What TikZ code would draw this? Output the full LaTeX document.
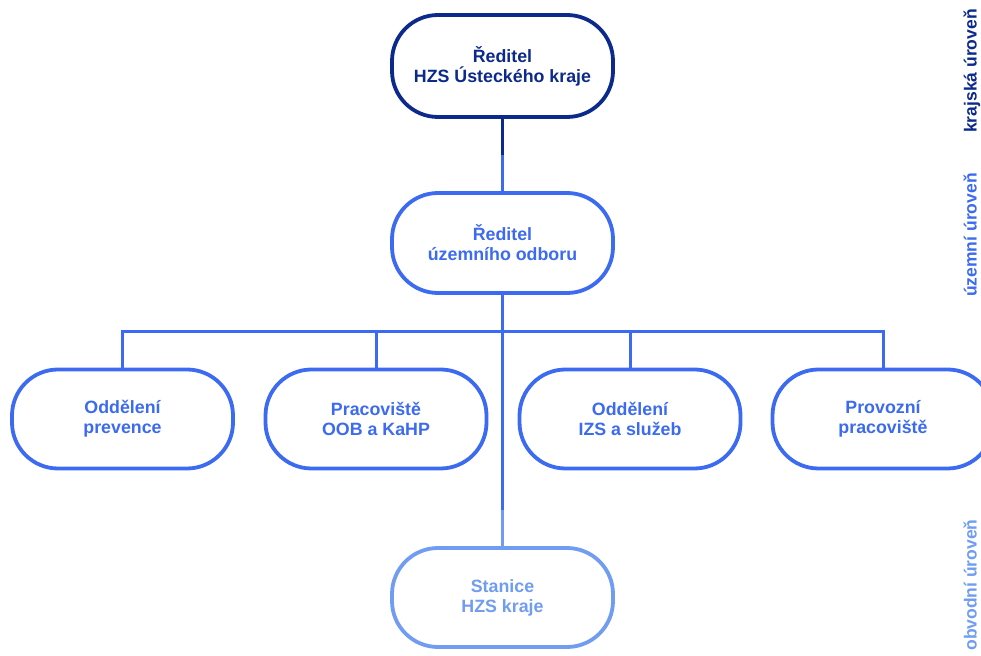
\documentclass[tikz,border=0pt]{standalone}
\usepackage{fontspec}
\setmainfont{Liberation Sans}
\definecolor{cnavy}{RGB}{12,42,140}
\definecolor{cmid}{RGB}{60,106,240}
\definecolor{clight}{RGB}{112,156,242}
\tikzset{
  x=1pt,y=1pt,
  orgbox/.style={draw, line width=3.8pt, rounded corners=46pt, fill=white,
    minimum width=221pt, minimum height=99pt, align=center, inner sep=0pt,
    font=\fontsize{17.8}{20}\selectfont\bfseries},
  conn/.style={line width=3pt},
  lvl/.style={rotate=90, anchor=base, inner sep=0pt,
    font=\fontsize{17.5}{20}\selectfont\bfseries},
}
\begin{document}
\begin{tikzpicture}
\useasboundingbox (0,0) rectangle (981,655);
\clip (0,0) rectangle (981,655);
% nodes
\node[orgbox, draw=cnavy, text=cnavy, minimum height=102pt] (top) at (502.5,589) {Ředitel\\HZS Ústeckého kraje};
\node[orgbox, draw=cmid, text=cmid, minimum height=100pt] (mid) at (502.5,412) {Ředitel\\územního odboru};
\node[orgbox, draw=cmid, text=cmid] (c1) at (122.5,236) {Oddělení\\prevence};
\node[orgbox, draw=cmid, text=cmid] (c2) at (376,236) {Pracoviště\\OOB a KaHP};
\node[orgbox, draw=cmid, text=cmid] (c3) at (630,236) {Oddělení\\IZS a služeb};
\node[orgbox, draw=cmid, text=cmid] (c4) at (883,236) {Provozní\\pracoviště};
\node[orgbox, draw=clight, text=clight] (st) at (502.5,57.5) {Stanice\\HZS kraje};
% level labels
\node[lvl, text=cnavy] (l1) at (976.5,584) {krajská úroveň};
\node[lvl, text=cmid] (l2) at (976.5,420) {územní úroveň};
\node[lvl, text=clight] (l3) at (976.5,70) {obvodní úroveň};
% coordinates
\coordinate (k1) at (502.5,500);
\coordinate (bus) at (502.5,323);
\coordinate (k2) at (502.5,145);
% connectors
\draw[conn, cnavy] (top.south) -- (k1);
\draw[conn, cmid] (k1) -- (mid.north);
\draw[conn, cmid] (mid.south) -- (bus);
\draw[conn, cmid] (c1.north) |- (bus) -| (c4.north);
\draw[conn, cmid] (c2.north) -- (c2.north |- bus);
\draw[conn, cmid] (c3.north) -- (c3.north |- bus);
\draw[conn, cmid] (bus) -- (k2);
\draw[conn, clight] (k2) -- (st.north);
\end{tikzpicture}
\end{document}
